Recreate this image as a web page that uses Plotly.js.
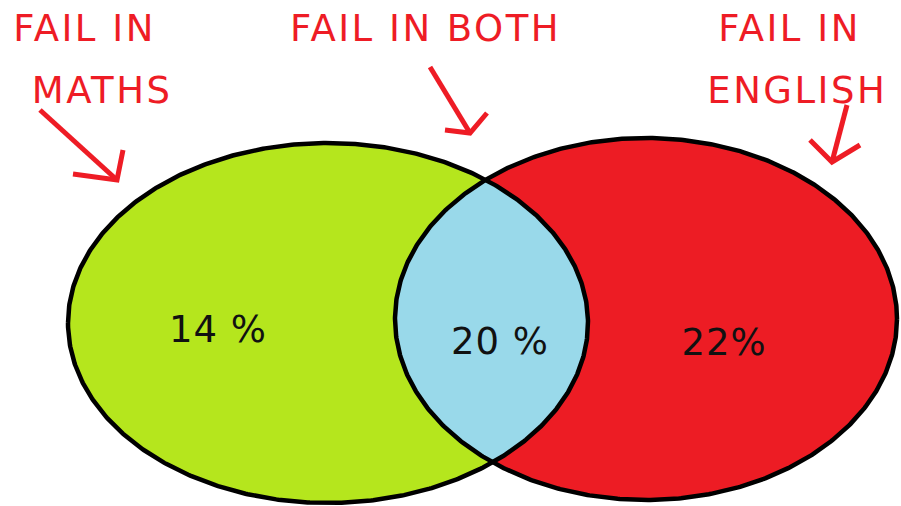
<!DOCTYPE html>
<html>
<head>
<meta charset="utf-8">
<script src="https://cdn.plot.ly/plotly-3.0.1.min.js"></script>
<style>html,body{margin:0;padding:0;background:#fff;}#chart{width:901px;height:506px;}</style>
</head>
<body>
<div id="chart"></div>
<script>
// ---- data ----
const regionNames = ["Fail in Maths only", "Fail in both", "Fail in English only"];
const regionValues = [14, 20, 22];
const regionValueLabels = ["14 %", "20 %", "22%"];
const setLabelLines = [["FAIL IN", "MATHS"], ["FAIL IN BOTH"], ["FAIL IN", "ENGLISH"]];

// ---- layout geometry (pixel-like axis units) ----
const W = 901, H = 506;
const ellipseMaths = {cx: 328, cy: 323, rx: 260, ry: 180};
const ellipseEnglish = {cx: 646, cy: 319, rx: 251, ry: 181};
const valuePos = [[218, 329], [500, 341], [724, 342]];
const labelPos = [[[84, 28], [102, 90]], [[425, 28]], [[789, 28], [797, 90]]];
const arrowPaths = [
  [[40, 110], [117, 180]], [[123, 150], [117, 180], [73, 174]],
  [[430, 67], [470, 133]], [[487, 113], [470, 133], [445, 130]],
  [[847, 105], [832, 162]], [[810, 140], [832, 162], [860, 145]]
];
const colors = {maths: "#b5e61d", english: "#ed1c24", both: "#99d9ea", label: "#ee1c25", outline: "#000000"};

function ellipsePts(e, t0, t1, n) {
  const xs = [], ys = [];
  for (let i = 0; i <= n; i++) {
    const t = t0 + (t1 - t0) * i / n;
    xs.push(e.cx + e.rx * Math.cos(t));
    ys.push(e.cy + e.ry * Math.sin(t));
  }
  return {x: xs, y: ys};
}
function inside(e, x, y) {
  const dx = (x - e.cx) / e.rx, dy = (y - e.cy) / e.ry;
  return dx * dx + dy * dy <= 1;
}

const N = 720;
const pm = ellipsePts(ellipseMaths, -Math.PI, Math.PI, N);
const pe = ellipsePts(ellipseEnglish, 0, 2 * Math.PI, N);

// lens
const lx = [], ly = [];
for (let i = 0; i <= N; i++) if (inside(ellipseEnglish, pm.x[i], pm.y[i])) { lx.push(pm.x[i]); ly.push(pm.y[i]); }
for (let i = 0; i <= N; i++) if (inside(ellipseMaths, pe.x[i], pe.y[i])) { lx.push(pe.x[i]); ly.push(pe.y[i]); }
lx.push(lx[0]); ly.push(ly[0]);

const traces = [
  {x: pm.x, y: pm.y, mode: "lines", fill: "toself", fillcolor: colors.maths, line: {width: 0, color: colors.maths}, name: regionNames[0], hoverinfo: "skip"},
  {x: pe.x, y: pe.y, mode: "lines", fill: "toself", fillcolor: colors.english, line: {width: 0, color: colors.english}, name: regionNames[2], hoverinfo: "skip"},
  {x: lx, y: ly, mode: "lines", fill: "toself", fillcolor: colors.both, line: {width: 0, color: colors.both}, name: regionNames[1], hoverinfo: "skip"},
  {x: pm.x, y: pm.y, mode: "lines", line: {width: 4.5, color: colors.outline}, hoverinfo: "skip"},
  {x: pe.x, y: pe.y, mode: "lines", line: {width: 4.5, color: colors.outline}, hoverinfo: "skip"}
];
arrowPaths.forEach(p => {
  traces.push({x: p.map(q => q[0]), y: p.map(q => q[1]), mode: "lines",
    line: {width: 5, color: colors.label, shape: "linear"}, hoverinfo: "skip"});
});

const annotations = [];
regionValueLabels.forEach((t, i) => {
  annotations.push({x: valuePos[i][0], y: valuePos[i][1], text: t, showarrow: false,
    xanchor: "center", yanchor: "middle",
    font: {family: "DejaVu Sans, sans-serif", size: 37, color: "#111111"}});
});
setLabelLines.forEach((lines, i) => {
  lines.forEach((t, j) => {
    annotations.push({x: labelPos[i][j][0], y: labelPos[i][j][1], text: t, showarrow: false,
      xanchor: "center", yanchor: "middle",
      font: {family: "DejaVu Sans, sans-serif", size: 37, color: colors.label}});
  });
});

const layout = {
  width: W, height: H,
  margin: {l: 0, r: 0, t: 0, b: 0, pad: 0},
  paper_bgcolor: "#ffffff", plot_bgcolor: "#ffffff",
  showlegend: false,
  xaxis: {range: [0, W], visible: false, fixedrange: true},
  yaxis: {range: [H, 0], visible: false, fixedrange: true},
  annotations: annotations
};
Plotly.newPlot("chart", traces, layout, {displayModeBar: false, staticPlot: true}).then(() => {
  document.querySelectorAll(".annotation-text").forEach(el => {
    const isValue = regionValueLabels.indexOf(el.textContent) >= 0;
    el.style.letterSpacing = isValue ? "1px" : "2.5px";
  });
});
</script>
</body>
</html>
